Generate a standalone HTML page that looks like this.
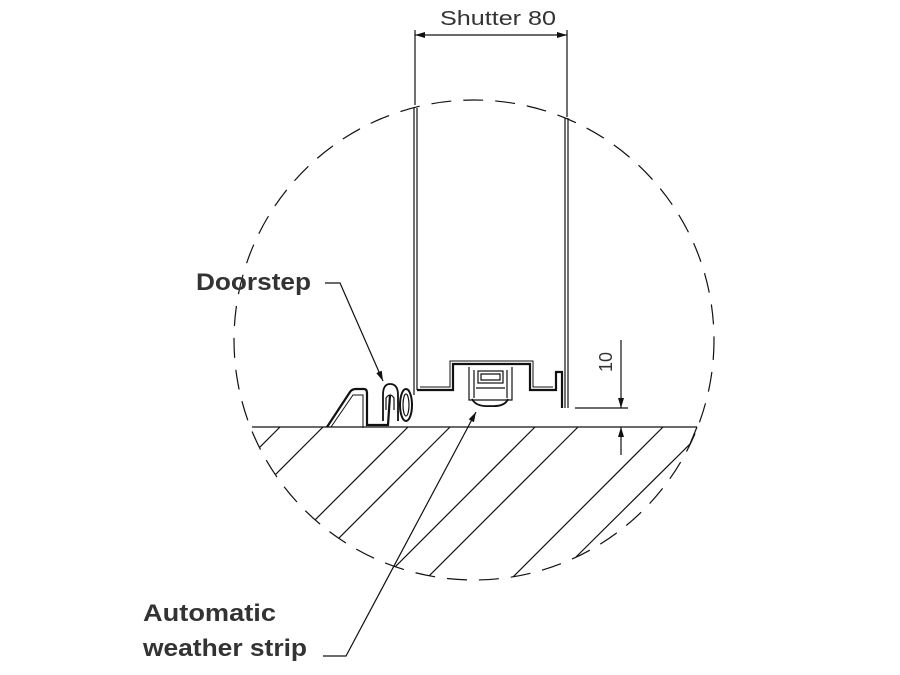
<!DOCTYPE html>
<html><head><meta charset="utf-8"><style>
html,body{margin:0;padding:0;background:#fff;}
svg{display:block;}
text{font-family:"Liberation Sans",sans-serif;fill:#333;}
</style></head><body>
<svg width="900" height="675" viewBox="0 0 900 675" xmlns="http://www.w3.org/2000/svg">
<defs>
<clipPath id="c"><circle cx="474" cy="340" r="240"/></clipPath>
<marker id="a" markerWidth="10" markerHeight="6" refX="10" refY="3" orient="auto" markerUnits="userSpaceOnUse"><path d="M0,0 L10,3 L0,6 z" fill="#111"/></marker>
</defs>
<g stroke="#111" fill="none" stroke-width="1.2">
<circle cx="474" cy="340" r="240" stroke-dasharray="20,12"/>
<line x1="252" y1="427" x2="697" y2="427"/>
<g clip-path="url(#c)">
<line x1="280" y1="427" x2="140" y2="567"/>
<line x1="323" y1="427" x2="183" y2="567"/>
<line x1="408" y1="427" x2="248" y2="587"/>
<line x1="450" y1="427" x2="290" y2="587"/>
<line x1="535" y1="427" x2="375" y2="587"/>
<line x1="578" y1="427" x2="418" y2="587"/>
<line x1="663" y1="427" x2="503" y2="587"/>
</g>
<path d="M697,427 L690,444 L576,557"/>
<line x1="414" y1="108" x2="414" y2="395"/>
<line x1="417" y1="108" x2="417" y2="390"/>
<line x1="565" y1="118" x2="565" y2="408"/>
<line x1="568" y1="118" x2="568" y2="408"/>
<line x1="415" y1="30" x2="415" y2="105"/>
<line x1="567" y1="30" x2="567" y2="117"/>
<line x1="430" y1="35" x2="415" y2="35" marker-end="url(#a)"/>
<line x1="430" y1="35" x2="567" y2="35" marker-end="url(#a)"/>
<path d="M417,390 L453,390 L453,364 L530,364 L530,390 L556,390 L556,372 L562,372 L562,408" stroke-width="2.2"/>
<path d="M420,387 L450,387 L450,361 L533,361 L533,387 L553,387" stroke-width="1"/>
<path d="M469,367 L469,400 L512,400 L512,367"/>
<path d="M474,370 L474,398 M507,370 L507,398"/>
<rect x="478" y="371" width="25" height="12"/>
<path d="M481,374 L500,374 L500,380 L481,380 z"/>
<path d="M472,399 Q476,407 490,406 Q505,407 508,399" stroke-width="1.8"/>
<path d="M476,388 L505,388"/>
<path d="M327,427 L350,392 Q352,389 356,389 L364,389 Q367,389 367,393 L367,425 L388,425 L390,395" stroke-width="2.2"/>
<path d="M331,427 L353,395 L363,395 L363,428" stroke-width="1"/>
<path d="M383,421 L383,395 Q383,384 390,384 Q398,384 398,395 L398,421" stroke-width="1.8"/>
<path d="M386,410 L386,398 Q390,392 394,398 L394,410"/>
<ellipse cx="406" cy="405" rx="6" ry="16" stroke-width="2"/>
<ellipse cx="406" cy="405" rx="3" ry="11"/>
<line x1="621" y1="340" x2="621" y2="408" marker-end="url(#a)"/>
<line x1="621" y1="455" x2="621" y2="427" marker-end="url(#a)"/>
<line x1="575" y1="408" x2="628" y2="408"/>
<path d="M325,283 L340,283 L383,381" marker-end="url(#a)"/>
<path d="M323,656 L346,656 L476,412" marker-end="url(#a)"/>
</g>
<text x="440" y="25" font-size="20" textLength="116" lengthAdjust="spacingAndGlyphs">Shutter 80</text>
<text x="196" y="290" font-size="24" font-weight="bold" textLength="115" lengthAdjust="spacingAndGlyphs">Doorstep</text>
<text x="143" y="621" font-size="24" font-weight="bold" textLength="133" lengthAdjust="spacingAndGlyphs">Automatic</text>
<text x="143" y="656" font-size="24" font-weight="bold" textLength="164" lengthAdjust="spacingAndGlyphs">weather strip</text>
<text x="0" y="0" font-size="18" transform="translate(612,372) rotate(-90)">10</text>
</svg>
</body></html>
